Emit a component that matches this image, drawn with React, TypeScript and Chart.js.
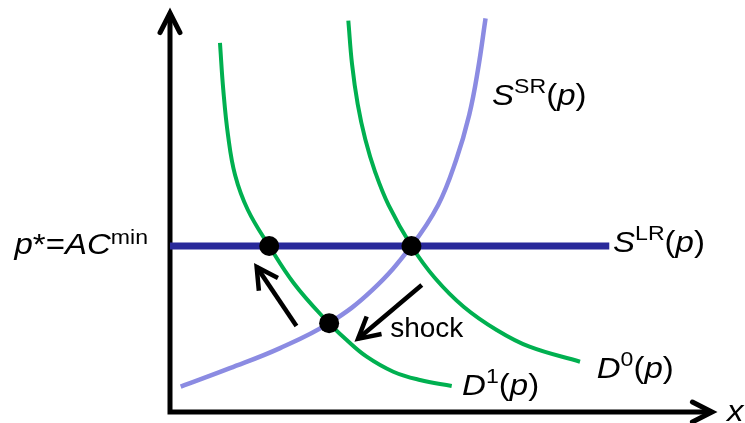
import React, { useEffect, useRef } from "react";
import { Chart, registerables } from "chart.js";

Chart.register(...registerables);

// ---- data (quantity x, price p), axes 0..100 ----
const pStar = 41.3;
const slrRange = [0, 80.6];

const d1X = [9.17, 9.78, 10.64, 11.94, 14.29, 18.2, 22.68, 28.26, 32.42, 36.09, 40.97, 45.87, 51.69];
const d1Y = [91.8, 80.1, 68.9, 58.96, 50.25, 41.3, 32.09, 23.38, 17.91, 13.76, 10.02, 7.96, 6.47];

const d0X = [32.72, 33.41, 34.44, 35.83, 37.63, 40.11, 44.3, 48.61, 53.93, 59.94, 65.96, 75.23];
const d0Y = [97.34, 86.44, 76.59, 67.84, 59.75, 51.44, 41.3, 33.33, 26.12, 20.4, 16.24, 12.51];

const ssrX = [1.96, 11.0, 20.2, 29.2, 37.1, 44.3, 49.2, 52.5, 54.9, 56.5, 57.9];
const ssrY = [6.3, 10.9, 15.9, 22.1, 30.3, 41.3, 51.5, 62.7, 73.9, 85.1, 97.9];

const eqX = [18.2, 44.3, 29.2];
const eqY = [41.3, 41.3, 22.1];

// arrows: [fromX, fromY, toX, toY]
const shockArrow = [46.2, 31.6, 34.5, 18.2];
const adjustArrow = [23.2, 21.4, 15.9, 36.1];

const zip = (xs: number[], ys: number[]) => xs.map((x, i) => ({ x, y: ys[i] }));

type Piece = { t: string; it?: boolean; sup?: boolean };
const MAIN = 30;
const SUP = 21;

function drawRich(
  ctx: CanvasRenderingContext2D,
  pieces: Piece[],
  x: number,
  y: number,
  align: "left" | "right",
  sx: number,
  raise = 12
) {
  const fontOf = (p: Piece) =>
    `${p.it ? "italic " : ""}${p.sup ? SUP : MAIN}px 'Liberation Sans', Arial, sans-serif`;
  let total = 0;
  for (const p of pieces) {
    ctx.font = fontOf(p);
    total += ctx.measureText(p.t).width;
  }
  ctx.save();
  ctx.translate(align === "right" ? x - total * sx : x, y);
  ctx.scale(sx, 1);
  ctx.fillStyle = "#000";
  ctx.textBaseline = "alphabetic";
  ctx.textAlign = "left";
  let cx = 0;
  for (const p of pieces) {
    ctx.font = fontOf(p);
    ctx.fillText(p.t, cx, p.sup ? -raise : 0);
    cx += ctx.measureText(p.t).width;
  }
  ctx.restore();
}

function chevron(ctx: CanvasRenderingContext2D, tx: number, ty: number, ang: number, len: number, half: number) {
  ctx.beginPath();
  ctx.moveTo(tx - len * Math.cos(ang - half), ty - len * Math.sin(ang - half));
  ctx.lineTo(tx, ty);
  ctx.lineTo(tx - len * Math.cos(ang + half), ty - len * Math.sin(ang + half));
  ctx.stroke();
}

const labels: { pieces: Piece[]; x: number; y: number }[] = [
  { pieces: [{ t: "S", it: true }, { t: "SR", sup: true }, { t: "(" }, { t: "p", it: true }, { t: ")" }], x: 59.1, y: 76.4 },
  { pieces: [{ t: "S", it: true }, { t: "LR", sup: true }, { t: "(" }, { t: "p", it: true }, { t: ")" }], x: 81.3, y: 39.8 },
  { pieces: [{ t: "D", it: true }, { t: "0", sup: true }, { t: "(" }, { t: "p", it: true }, { t: ")" }], x: 78.3, y: 8.5 },
  { pieces: [{ t: "D", it: true }, { t: "1", sup: true }, { t: "(" }, { t: "p", it: true }, { t: ")" }], x: 53.6, y: 4.2 },
];

const overlay = {
  id: "overlay",
  beforeDatasetsDraw(chart: any) {
    const { ctx, chartArea } = chart;
    const { left, right, top, bottom } = chartArea;
    ctx.save();
    ctx.strokeStyle = "#000";
    ctx.lineWidth = 5;
    ctx.lineJoin = "miter";
    ctx.lineCap = "butt";
    ctx.beginPath();
    ctx.moveTo(left, top + 3);
    ctx.lineTo(left, bottom);
    ctx.lineTo(right - 3, bottom);
    ctx.stroke();
    ctx.lineCap = "round";
    chevron(ctx, left, top + 3, -Math.PI / 2, 22, 0.47);
    chevron(ctx, right - 3, bottom, 0, 22, 0.47);
    ctx.restore();
  },
  afterDatasetsDraw(chart: any) {
    const { ctx, chartArea, scales } = chart;
    const xs = scales.x;
    const ys = scales.y;
    ctx.save();
    ctx.strokeStyle = "#000";
    ctx.lineWidth = 4.5;
    for (const a of [shockArrow, adjustArrow]) {
      const x1 = xs.getPixelForValue(a[0]);
      const y1 = ys.getPixelForValue(a[1]);
      const x2 = xs.getPixelForValue(a[2]);
      const y2 = ys.getPixelForValue(a[3]);
      ctx.lineCap = "butt";
      ctx.beginPath();
      ctx.moveTo(x1, y1);
      ctx.lineTo(x2, y2);
      ctx.stroke();
      ctx.lineJoin = "miter";
      chevron(ctx, x2, y2, Math.atan2(y2 - y1, x2 - x1), 24, 0.5);
    }
    ctx.fillStyle = "#000";
    ctx.font = "28px 'Liberation Sans', Arial, sans-serif";
    ctx.textAlign = "left";
    ctx.textBaseline = "alphabetic";
    ctx.fillText("shock", xs.getPixelForValue(40.4), ys.getPixelForValue(18.7));
    for (const l of labels) {
      drawRich(ctx, l.pieces, xs.getPixelForValue(l.x), ys.getPixelForValue(l.y), "left", 1.1);
    }
    drawRich(
      ctx,
      [{ t: "p", it: true }, { t: "*=" }, { t: "AC", it: true }, { t: "min", sup: true }],
      chartArea.left - 22,
      ys.getPixelForValue(pStar) + 8,
      "right",
      1.1,
      10
    );
    drawRich(ctx, [{ t: "x", it: true }], chartArea.right + 12, chartArea.bottom + 9, "left", 1.1);
    ctx.restore();
  },
};

export default function App() {
  const ref = useRef<HTMLCanvasElement | null>(null);
  useEffect(() => {
    if (!ref.current) return;
    const curve = { pointRadius: 0, tension: 0.4, borderCapStyle: "butt" };
    const chart = new Chart(ref.current, {
      type: "line",
      data: {
        datasets: [
          {
            label: "equilibria",
            data: zip(eqX, eqY),
            showLine: false,
            pointRadius: 10,
            pointBackgroundColor: "#000",
            pointBorderWidth: 0,
            order: 0,
          } as any,
          { label: "D1", data: zip(d1X, d1Y), borderColor: "#00b050", borderWidth: 4, ...curve, order: 1 },
          { label: "D0", data: zip(d0X, d0Y), borderColor: "#00b050", borderWidth: 4, ...curve, order: 2 },
          { label: "SSR", data: zip(ssrX, ssrY), borderColor: "#8b8be2", borderWidth: 4.5, ...curve, order: 3 },
          {
            label: "SLR",
            data: [
              { x: slrRange[0], y: pStar },
              { x: slrRange[1], y: pStar },
            ],
            borderColor: "#29299a",
            borderWidth: 7,
            pointRadius: 0,
            order: 4,
          },
        ],
      },
      options: {
        animation: false,
        responsive: false,
        devicePixelRatio: 1,
        layout: { padding: { left: 170, right: 30, top: 10, bottom: 11 } },
        scales: {
          x: { type: "linear", min: 0, max: 100, display: false },
          y: { type: "linear", min: 0, max: 100, display: false },
        },
        plugins: { legend: { display: false }, tooltip: { enabled: false } },
        clip: false as any,
      },
      plugins: [overlay],
    } as any);
    return () => chart.destroy();
  }, []);
  return (
    <div style={{ position: "absolute", left: 0, top: 0, width: 745, height: 423, background: "#fff", overflow: "hidden" }}>
      <canvas ref={ref} width={745} height={423} />
    </div>
  );
}
